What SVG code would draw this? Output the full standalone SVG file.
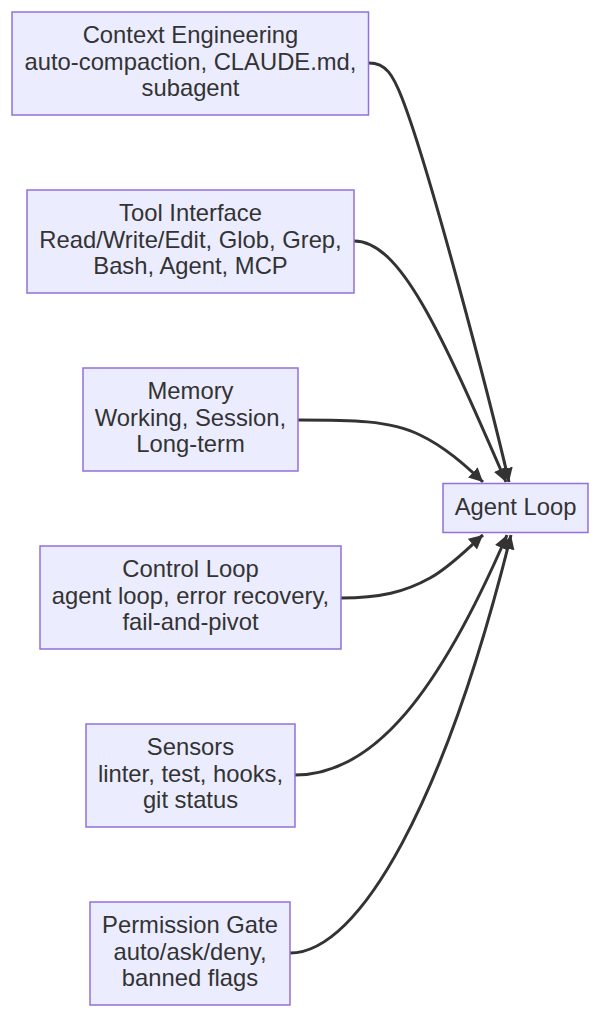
<svg xmlns="http://www.w3.org/2000/svg" width="600" height="1018" viewBox="0 0 600 1018">
<style>
.node rect{fill:#ECECFF;stroke:#9370DB;stroke-width:1.5}
.node text{font-family:"Liberation Sans",Arial,sans-serif;font-size:23.8px;fill:#333;text-anchor:middle}
.edge{fill:none;stroke:#333;stroke-width:3;marker-end:url(#arrow)}
</style>
<defs>
<marker id="arrow" viewBox="0 0 10 10" refX="10" refY="5" markerWidth="14" markerHeight="14" markerUnits="userSpaceOnUse" orient="auto">
<path d="M0,0 L10,5 L0,10 z" fill="#333"/>
</marker>
</defs>
<g id="connectors">
<path class="edge" d="M369,63 C386,63 393,75 402,98 C430,170 490,400 509,482"/>
<path class="edge" d="M354,241 C400,241 440,330 506,482"/>
<path class="edge" d="M298,420 C350,420 390,420 420,435 C445,447 465,465 483,482"/>
<path class="edge" d="M341,598 C380,598 405,592 430,578 C450,567 468,548 483,535"/>
<path class="edge" d="M295,775 C375,775 440,690 507,535"/>
<path class="edge" d="M290,953 C360,953 445,800 511,535"/>
</g>
<g id="context" class="node">
<rect x="12" y="12" width="356.5" height="103"/>
<text x="190.5" y="43">Context Engineering</text>
<text x="190.5" y="69.5">auto-compaction, CLAUDE.md,</text>
<text x="190.5" y="96">subagent</text>
</g>
<g id="tool" class="node">
<rect x="27" y="190" width="327" height="103"/>
<text x="190.5" y="221">Tool Interface</text>
<text x="190.5" y="247.5">Read/Write/Edit, Glob, Grep,</text>
<text x="190.5" y="274">Bash, Agent, MCP</text>
</g>
<g id="memory" class="node">
<rect x="83" y="368" width="215" height="103"/>
<text x="190.5" y="399">Memory</text>
<text x="190.5" y="425.5">Working, Session,</text>
<text x="190.5" y="452">Long-term</text>
</g>
<g id="control" class="node">
<rect x="40" y="546" width="301" height="103"/>
<text x="190.5" y="577">Control Loop</text>
<text x="190.5" y="603.5">agent loop, error recovery,</text>
<text x="190.5" y="630">fail-and-pivot</text>
</g>
<g id="sensors" class="node">
<rect x="86" y="724" width="209" height="103"/>
<text x="190.5" y="755">Sensors</text>
<text x="190.5" y="781.5">linter, test, hooks,</text>
<text x="190.5" y="808">git status</text>
</g>
<g id="permission" class="node">
<rect x="90" y="902" width="200" height="103"/>
<text x="190" y="933">Permission Gate</text>
<text x="190" y="959.5">auto/ask/deny,</text>
<text x="190" y="986">banned flags</text>
</g>
<g id="agentloop" class="node">
<rect x="443" y="483.5" width="145" height="49"/>
<text x="515.5" y="515">Agent Loop</text>
</g>
</svg>
